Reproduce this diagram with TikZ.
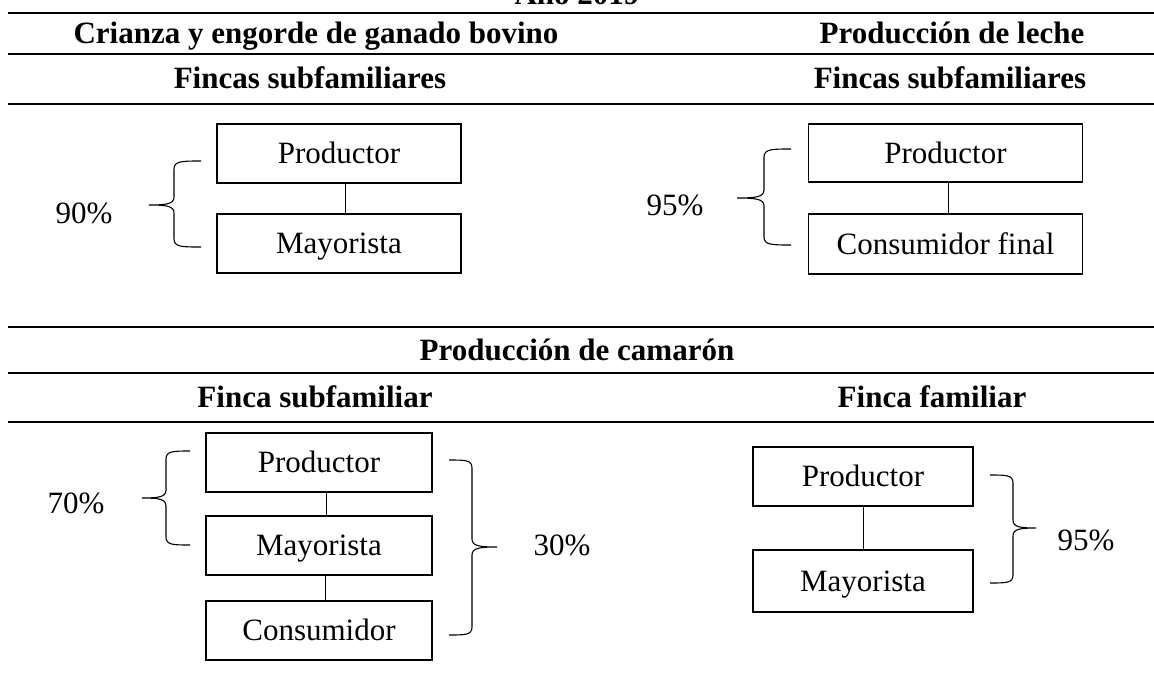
\documentclass[tikz,border=0pt]{standalone}
\usepackage{fontspec}
\setmainfont{Liberation Serif}
\newcommand{\mybrace}[6]{% arm x, vertical x, tip x, top y, tip y, bottom y
  \draw[brc] (#1,#4) .. controls ({#2+0.3*(#1-#2)},#4) and (#2,#4) .. (#2,{#4+8})
    -- (#2,{#5-8}) .. controls (#2,{#5-1}) and ({#2+0.3*(#3-#2)},#5) .. (#3,#5)
    .. controls ({#2+0.3*(#3-#2)},#5) and (#2,{#5+1}) .. (#2,{#5+8})
    -- (#2,{#6-8}) .. controls (#2,#6) and ({#2+0.3*(#1-#2)},#6) .. (#1,#6);}
\begin{document}
\begin{tikzpicture}[x=1pt,y=-1pt,
  box/.style={draw,line width=1.6pt,inner sep=0pt,text height=20pt,text depth=0pt,font=\fontsize{31}{36}\selectfont},
  pct/.style={inner sep=0pt,text height=20pt,text depth=0pt,font=\fontsize{31}{36}\selectfont},
  head/.style={inner sep=0pt,text height=20pt,text depth=0pt,font=\fontsize{31}{36}\selectfont\bfseries},
  rule/.style={line width=2.4pt},
  conn/.style={line width=1pt},
  brc/.style={line width=1.1pt}]
\useasboundingbox (0,0) rectangle (1154,691);
\clip (0,0) rectangle (1154,691);
% title (cut off at top)
\node[head,anchor=base] (title) at (577,4) {Año 2019};
% rules
\draw[rule] (8,13) -- (1154,13);
\draw[rule] (8,54) -- (1154,54);
\draw[rule] (8,104) -- (1154,104);
\draw[rule] (8,327) -- (1154,327);
\draw[rule] (8,373) -- (1154,373);
\draw[rule] (8,422) -- (1154,422);
% headings
\node[head] (h1) at (316,33) {Crianza y engorde de ganado bovino};
\node[head] (h2) at (952,33) {Producción de leche};
\node[head] (h3) at (310,78) {Fincas subfamiliares};
\node[head] (h4) at (950,78) {Fincas subfamiliares};
\node[head] (h5) at (577,350) {Producción de camarón};
\node[head] (h6) at (315,397) {Finca subfamiliar};
\node[head] (h7) at (932,397) {Finca familiar};
% top-left
\node[box,minimum width=244,minimum height=59] (a1) at (339,153.5) {Productor};
\node[box,minimum width=244,minimum height=59] (a2) at (339,243.5) {Mayorista};
\draw[conn] ([xshift=6pt]a1.south) -- ([xshift=6pt]a2.north);
\mybrace{201}{174}{149}{161}{205}{247}
\node[pct] (p90) at (84,213) {90\%};
% top-right
\node[box,minimum width=274,minimum height=58] (b1) at (945.5,153) {Productor};
\node[box,minimum width=274,minimum height=60] (b2) at (945.5,244) {Consumidor final};
\draw[conn] ([xshift=3pt]b1.south) -- ([xshift=3pt]b2.north);
\mybrace{791}{764}{737}{149}{198}{245}
\node[pct] (p95a) at (675,205) {95\%};
% bottom-left
\node[box,minimum width=226,minimum height=59] (c1) at (319,462.5) {Productor};
\node[box,minimum width=226,minimum height=59] (c2) at (319,545.5) {Mayorista};
\node[box,minimum width=226,minimum height=59] (c3) at (319,630.5) {Consumidor};
\draw[conn] ([xshift=7pt]c1.south) -- ([xshift=7pt]c2.north);
\draw[conn] ([xshift=6pt]c2.south) -- ([xshift=6pt]c3.north);
\mybrace{190}{166}{142}{451}{498}{545}
\node[pct] (p70) at (76,503) {70\%};
\mybrace{449}{472}{497}{460}{547}{635}
\node[pct] (p30) at (562,545) {30\%};
% bottom-right
\node[box,minimum width=220,minimum height=59] (d1) at (863,476.5) {Productor};
\node[box,minimum width=220,minimum height=62] (d2) at (863,581) {Mayorista};
\draw[conn] (d1.south) -- (d2.north);
\mybrace{990}{1013}{1036}{475}{528}{583}
\node[pct] (p95b) at (1086,540) {95\%};
\end{tikzpicture}
\end{document}
